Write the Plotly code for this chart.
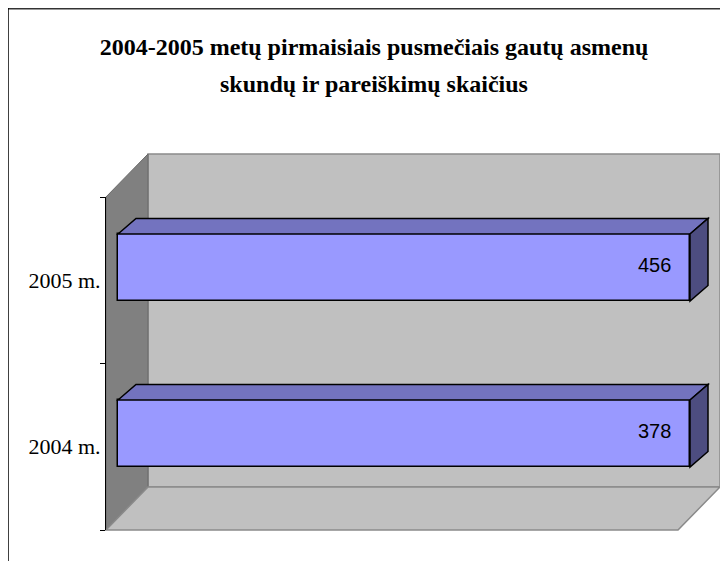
import plotly.graph_objects as go

# ---- data ----
categories = ["2004 m.", "2005 m."]
values = [378, 456]
title_line1 = "2004-2005 metų pirmaisiais pusmečiais gautų asmenų"
title_line2 = "skundų ir pareiškimų skaičius"

# ---- layout geometry (pixels, in window coordinates; page has an 8px body margin) ----
OFF = 8
W, H = 720, 553
AXIS_MAX = 350          # value axis maximum (both bars run past it and are clipped)
X0_PX, XMAX_PX = 118, 690
CAT0_PX, CAT1_PX = 433.5, 267.5
BAR_W = 67 / 166
DEPTH_X_PX, DEPTH_Y_PX = 18, 15.5


def px(x):
    return (x - OFF) / W


def py(y):
    return 1 - (y - OFF) / H


unit_x = AXIS_MAX / (XMAX_PX - X0_PX)      # data units per pixel (x)
cat_px = CAT0_PX - CAT1_PX                 # pixels per category
x_range = [-(X0_PX - OFF) * unit_x, (W + OFF - X0_PX) * unit_x]
y_range = [-(H + OFF - CAT0_PX) / cat_px, 1 + (CAT1_PX - OFF) / cat_px]
dx = DEPTH_X_PX * unit_x
dy = DEPTH_Y_PX / cat_px

pos = list(range(len(categories)))
drawn = [min(v, AXIS_MAX) for v in values]

fig = go.Figure()

# front faces of the bars
fig.add_trace(go.Bar(
    y=pos, x=drawn, orientation="h", width=BAR_W,
    marker=dict(color="#9999FF", line=dict(color="black", width=1.5)),
    hoverinfo="skip", showlegend=False,
))

# invisible trace to carry the category axis
fig.add_trace(go.Scatter(
    x=[0, 0], y=categories, xaxis="x2", yaxis="y2", mode="markers",
    marker=dict(opacity=0), hoverinfo="skip", showlegend=False,
))

shapes = []


def paper_path(points):
    return "M " + " L ".join(f"{px(a):.5f},{py(b):.5f}" for a, b in points) + " Z"


# walls (decoration)
shapes.append(dict(type="rect", xref="paper", yref="paper", layer="below",
                   x0=px(148), x1=px(720), y0=py(487), y1=py(154),
                   fillcolor="#C0C0C0", line=dict(color="#8A8A8A", width=1.5)))
shapes.append(dict(type="path", xref="paper", yref="paper", layer="below",
                   path=paper_path([(106, 197), (148, 154), (148, 487), (106, 530)]),
                   fillcolor="#808080", line=dict(color="#6A6A6A", width=1)))
shapes.append(dict(type="path", xref="paper", yref="paper", layer="below",
                   path=paper_path([(106, 530), (148, 487), (720, 487), (678, 530)]),
                   fillcolor="#C0C0C0", line=dict(color="#8A8A8A", width=1.5)))

# outer frame
shapes.append(dict(type="line", xref="paper", yref="paper",
                   x0=0, x1=1, y0=py(8.5), y1=py(8.5),
                   line=dict(color="#333333", width=2)))
shapes.append(dict(type="line", xref="paper", yref="paper",
                   x0=px(8), x1=px(8), y0=py(8), y1=0,
                   line=dict(color="black", width=1.5)))


def data_path(points):
    return "M " + " L ".join(f"{a:.5f},{b:.5f}" for a, b in points) + " Z"


annotations = []
for c, L, v in zip(pos, drawn, values):
    yt = c + BAR_W / 2
    yb = c - BAR_W / 2
    shapes.append(dict(type="path", xref="x", yref="y", layer="above",
                       path=data_path([(0, yt), (dx, yt + dy), (L + dx, yt + dy), (L, yt)]),
                       fillcolor="#7373BF", line=dict(color="black", width=1.5)))
    shapes.append(dict(type="path", xref="x", yref="y", layer="above",
                       path=data_path([(L, yt), (L + dx, yt + dy), (L + dx, yb + dy), (L, yb)]),
                       fillcolor="#4D4D80", line=dict(color="black", width=1.5)))
    annotations.append(dict(x=L, y=c, xref="x", yref="y", text=str(v),
                            showarrow=False, xanchor="right", yanchor="middle",
                            xshift=-17, yshift=3,
                            font=dict(family="Liberation Sans, Arial", size=20, color="black")))

annotations.append(dict(x=px(374), y=py(84), xref="paper", yref="paper",
                        text=f"<b>{title_line2}</b>", showarrow=False,
                        xanchor="center", yanchor="middle",
                        font=dict(family="Liberation Serif, Times New Roman", size=24, color="black")))

fig.update_layout(
    width=W, height=H,
    margin=dict(l=0, r=0, t=0, b=0),
    paper_bgcolor="white", plot_bgcolor="rgba(0,0,0,0)",
    title=dict(text=f"<b>{title_line1}</b>", x=px(374), xanchor="center",
               y=py(47), yanchor="middle", xref="paper", yref="paper",
               font=dict(family="Liberation Serif, Times New Roman", size=24, color="black")),
    xaxis=dict(domain=[0, 1], range=x_range, visible=False, fixedrange=True),
    yaxis=dict(domain=[0, 1], range=y_range, visible=False, fixedrange=True),
    xaxis2=dict(domain=[px(106), 1], anchor="y2", visible=False, range=[0, 1]),
    yaxis2=dict(domain=[py(530), py(197)], anchor="x2", type="category",
                categoryorder="array", categoryarray=categories, range=[-0.5, 1.5],
                tickson="boundaries", ticks="outside", ticklen=5, tickcolor="black",
                showline=True, linecolor="black", linewidth=1,
                showgrid=False, zeroline=False,
                tickfont=dict(family="Liberation Serif, Times New Roman", size=22, color="black")),
    shapes=shapes,
    annotations=annotations,
    showlegend=False,
    bargap=0,
)

fig.write_html("out.html")
